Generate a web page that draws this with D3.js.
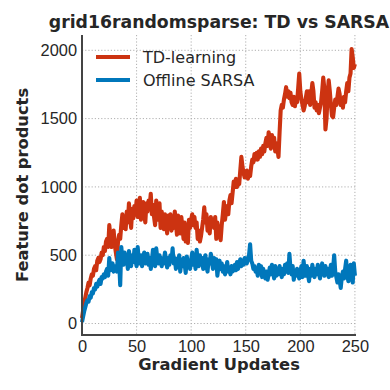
<!DOCTYPE html>
<html>
<head>
<meta charset="utf-8">
<script src="https://cdn.jsdelivr.net/npm/d3@7"></script>
<style>
  body { margin: 0; background: #fff; }
  svg { display: block; font-family: "DejaVu Sans", sans-serif; }
  .grid line { stroke: #b0b0b0; stroke-width: 1; stroke-dasharray: 1.2,2; }
  .axis path { display: none; }
  .axis line { display: none; }
  .axis text { font-size: 16.4px; fill: #262626; }
</style>
</head>
<body>
<script>
(function () {

// chart data
var seriesNames = ["TD-learning", "Offline SARSA"];
var seriesColors = ["#cc3311", "#0077bb"];
var xTicks = [0, 50, 100, 150, 200, 250];
var yTicks = [0, 500, 1000, 1500, 2000];

var tdValues = [
    40, 95, 150, 190, 230, 260, 300, 280, 330, 360,
    350, 400, 420, 390, 460, 480, 450, 470, 520, 500,
    560, 530, 600, 620, 560, 720, 640, 560, 600, 680,
    580, 520, 470, 600, 650, 620, 720, 800, 700, 760,
    690, 820, 740, 880, 780, 700, 840, 770, 860, 810,
    900, 780, 850, 920, 760, 830, 890, 800, 740, 880,
    820, 900, 860, 950, 800, 870, 780, 720, 900, 820,
    760, 880, 700, 820, 750, 690, 800, 740, 660, 790,
    720, 800, 680, 760, 700, 820, 740, 650, 790, 720,
    660, 780, 700, 620, 740, 600, 680, 590, 760, 700,
    760, 800, 720, 780, 700, 740, 620, 680, 600, 640,
    700, 760, 850, 740, 800, 680, 720, 660, 780, 720,
    760, 700, 780, 620, 740, 680, 650, 610, 720, 800,
    890, 760, 820, 860, 800, 900, 940, 880, 960, 1040,
    1000, 1060, 1000, 1040, 1020, 1120, 1220, 1150, 1100, 1070,
    1080, 1120, 1060, 1100, 1080, 1150, 1200, 1180, 1240, 1200,
    1250, 1200, 1260, 1220, 1280, 1240, 1300, 1260, 1320, 1360,
    1300, 1400, 1330, 1280, 1380, 1300, 1360, 1260, 1320, 1280,
    1220, 1400, 1560, 1600, 1580, 1640, 1680, 1730, 1660, 1700,
    1650, 1690, 1620, 1600, 1660, 1590, 1640, 1620, 1720, 1830,
    1700, 1640, 1600, 1560, 1590, 1650, 1700, 1620, 1700, 1600,
    1680, 1760, 1700, 1580, 1620, 1560, 1600, 1540, 1580, 1620,
    1700, 1800, 1720, 1420, 1500, 1680, 1780, 1700, 1600, 1520,
    1510, 1580, 1640, 1600, 1660, 1720, 1680, 1600, 1640, 1580,
    1660, 1620, 1700, 1760, 1700, 1800, 1830, 2010, 1950, 1870,
    1900
];

var sarsaValues = [
    10, 50, 90, 120, 150, 170, 160, 200, 190, 230,
    220, 260, 250, 290, 270, 300, 320, 290, 340, 330,
    360, 340, 380, 400, 350, 480, 390, 420, 440, 380,
    400, 420, 380, 520, 460, 280, 560, 470, 430, 520,
    450, 480, 400, 530, 470, 420, 500, 450, 540, 460,
    420, 560, 470, 440, 500, 420, 480, 520, 440, 460,
    510, 430, 480, 400, 460, 540, 470, 420, 550, 480,
    440, 500, 460, 420, 480, 440, 520, 470, 410, 480,
    430, 500, 460, 550, 440, 480, 400, 470, 430, 500,
    380, 460, 420, 480, 440, 370, 490, 430, 460, 400,
    470, 520, 430, 480, 400, 540, 460, 420, 500, 440,
    480, 400, 460, 500, 420, 380, 470, 440, 510, 450,
    400, 480, 430, 470, 350, 420, 460, 400, 440, 380,
    420, 360, 400, 450, 380, 410, 360, 420, 380, 400,
    430, 390, 450, 400, 440, 470, 420, 460, 430, 480,
    470, 440, 480, 500, 580, 460, 440, 400, 420, 380,
    400, 350, 430, 380, 420, 340, 400, 360, 330, 380,
    320, 360, 410, 360, 430, 380, 330, 420, 350, 400,
    360, 420, 380, 340, 400, 360, 430, 380, 440, 370,
    510, 400, 360, 420, 320, 380, 350, 400, 360, 330,
    380, 420, 340, 460, 380, 350, 420, 360, 310, 400,
    350, 430, 380, 340, 400, 360, 430, 370, 330, 390,
    440, 380, 350, 420, 360, 400, 340, 380, 430, 350,
    400, 500, 380, 340, 300, 360, 320, 260, 340, 380,
    330, 400, 460, 360, 310, 380, 430, 340, 300, 440,
    350
];

var width = 390,
    height = 390,
    left = 82,
    right = 356,
    top = 35,
    bottom = 335;

var svg = d3.select("body")
    .append("svg")
    .attr("width", width)
    .attr("height", height);

var xScale = d3.scaleLinear()
    .domain([0, 251])
    .range([left, right]);

var yScale = d3.scaleLinear()
    .domain([-84, 2112])
    .range([bottom, top]);

//dotted grid
var grid = svg.append("g").attr("class", "grid");
grid.selectAll(".gx")
    .data(xTicks)
    .enter()
    .append("line")
    .attr("x1", function (d) { return xScale(d); })
    .attr("x2", function (d) { return xScale(d); })
    .attr("y1", top)
    .attr("y2", bottom);
grid.selectAll(".gy")
    .data(yTicks)
    .enter()
    .append("line")
    .attr("x1", left)
    .attr("x2", right)
    .attr("y1", function (d) { return yScale(d); })
    .attr("y2", function (d) { return yScale(d); });

//series lines
var line = d3.line()
    .x(function (d, i) { return xScale(i); })
    .y(function (d) { return yScale(d); });

[tdValues, sarsaValues].forEach(function (vals, k) {
    svg.append("path")
        .datum(vals)
        .attr("d", line)
        .attr("fill", "none")
        .attr("stroke", seriesColors[k])
        .attr("stroke-width", 4.1)
        .attr("stroke-linejoin", "round")
        .attr("stroke-linecap", "butt");
});

//axes
var xAxis = svg.append("g")
    .attr("class", "axis")
    .attr("transform", "translate(0," + bottom + ")")
    .call(d3.axisBottom(xScale).tickValues(xTicks).tickFormat(d3.format("d"))
        .tickSize(0).tickPadding(5));
xAxis.selectAll("text").attr("dy", "0.71em");

svg.append("g")
    .attr("class", "axis")
    .attr("transform", "translate(" + left + ",0)")
    .call(d3.axisLeft(yScale).tickValues(yTicks).tickFormat(d3.format("d"))
        .tickSize(0).tickPadding(5));

//spines
svg.append("line")
    .attr("x1", left).attr("x2", left)
    .attr("y1", top).attr("y2", bottom + 1)
    .attr("stroke", "#444").attr("stroke-width", 2);
svg.append("line")
    .attr("x1", left - 1).attr("x2", right)
    .attr("y1", bottom).attr("y2", bottom)
    .attr("stroke", "#444").attr("stroke-width", 2);

//labels
svg.append("text")
    .attr("x", (left + right) / 2)
    .attr("y", 28)
    .attr("text-anchor", "middle")
    .style("font-size", "17.3px")
    .style("font-weight", "bold")
    .style("fill", "#262626")
    .text("grid16randomsparse: TD vs SARSA");

svg.append("text")
    .attr("x", (left + right) / 2)
    .attr("y", 370)
    .attr("text-anchor", "middle")
    .style("font-size", "16.3px")
    .style("font-weight", "bold")
    .style("fill", "#262626")
    .text("Gradient Updates");

svg.append("text")
    .attr("transform", "translate(28," + ((top + bottom) / 2) + ") rotate(-90)")
    .attr("text-anchor", "middle")
    .style("font-size", "16.3px")
    .style("font-weight", "bold")
    .style("fill", "#262626")
    .text("Feature dot products");

//legend
var legend = svg.append("g").attr("class", "legend");
seriesNames.forEach(function (name, k) {
    var ly = 57 + k * 23;
    legend.append("line")
        .attr("x1", 96).attr("x2", 130)
        .attr("y1", ly).attr("y2", ly)
        .attr("stroke", seriesColors[k])
        .attr("stroke-width", 4.1);
    legend.append("text")
        .attr("x", 143)
        .attr("y", ly + 6)
        .style("font-size", "16px")
        .style("fill", "#262626")
        .text(name);
});

})();
</script>
</body>
</html>
